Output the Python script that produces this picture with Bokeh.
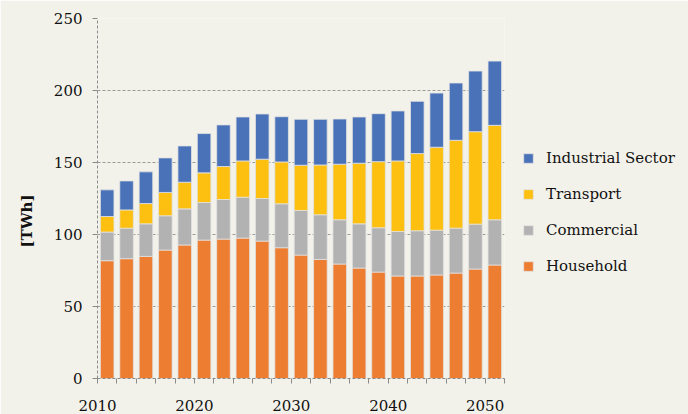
from bokeh.plotting import figure
from bokeh.models import ColumnDataSource, Range1d, FixedTicker, Legend, LegendItem, Title
from bokeh.embed import file_html
from bokeh.resources import INLINE

years = [2011 + 2 * i for i in range(21)]
household = [81.8, 83.2, 84.8, 89.2, 92.7, 96.1, 96.8, 97.5, 95.4, 90.8, 85.7,
             82.7, 79.5, 76.7, 73.9, 71.2, 71.2, 71.9, 73.2, 76.0, 78.8]
commercial = [19.9, 21.2, 22.6, 23.8, 25.1, 26.1, 27.5, 28.4, 29.6, 30.5, 31.0,
              31.0, 30.7, 30.7, 30.8, 30.9, 31.4, 31.1, 31.2, 31.2, 31.4]
transport = [10.8, 12.7, 14.1, 16.2, 18.5, 20.6, 22.9, 25.2, 27.3, 29.1, 31.4,
             34.6, 38.6, 42.1, 45.9, 49.0, 53.6, 57.6, 61.0, 64.2, 65.6]
industrial = [18.5, 20.1, 22.0, 24.0, 25.2, 27.3, 28.9, 30.5, 31.4, 31.4, 31.9,
              31.7, 31.4, 32.1, 33.3, 34.7, 36.3, 37.6, 39.8, 42.1, 44.6]

series = ["Household", "Commercial", "Transport", "Industrial Sector"]
colors = ["#ed7d31", "#b2b2b2", "#fdc010", "#4a72b8"]
x_ticks = list(range(2010, 2053, 2))
x_labels = {2010: "2010", 2020: "2020", 2030: "2030", 2040: "2040", 2050: "2050"}
y_ticks = [0, 50, 100, 150, 200, 250]

BG = "#f3f2ea"
FONT = "DejaVu Serif"

source = ColumnDataSource(dict(year=years, Household=household, Commercial=commercial,
                               Transport=transport, **{"Industrial Sector": industrial}))

p = figure(frame_width=407, frame_height=360, output_backend="svg", toolbar_location=None,
           x_range=Range1d(2010, 2052), y_range=Range1d(0, 250),
           min_border_left=96, min_border_right=185, min_border_top=18, min_border_bottom=36,
           background_fill_color=BG, border_fill_color=BG)
p.outline_line_color = None

renderers = p.vbar_stack(series, x="year", width=1.4, source=source, color=colors,
                         line_color="#e2e2e2", line_width=0.8)

p.xgrid.grid_line_color = None
p.ygrid.ticker = FixedTicker(ticks=y_ticks)
p.ygrid.grid_line_color = "#9a9a9a"
p.ygrid.grid_line_dash = "3 2"
p.ygrid.grid_line_width = 1

xa = p.xaxis[0]
xa.ticker = FixedTicker(ticks=x_ticks)
xa.major_label_overrides = {t: x_labels.get(t, "") for t in x_ticks}
xa.axis_line_color = "#8a8a8a"
xa.axis_line_dash = "3 2"
xa.major_tick_line_color = "#8a8a8a"
xa.major_tick_in = 0
xa.major_tick_out = 5
xa.minor_tick_line_color = None
xa.major_label_text_font = FONT
xa.major_label_text_font_size = "15px"
xa.major_label_text_color = "#111111"
xa.major_label_standoff = 16

ya = p.yaxis[0]
ya.ticker = FixedTicker(ticks=y_ticks)
ya.axis_line_color = "#8a8a8a"
ya.axis_line_dash = "3 2"
ya.major_tick_line_color = "#8a8a8a"
ya.major_tick_in = 0
ya.major_tick_out = 5
ya.minor_tick_line_color = None
ya.major_label_text_font = FONT
ya.major_label_text_font_size = "15px"
ya.major_label_text_color = "#111111"
ya.major_label_standoff = 10

ytitle = Title(text="[TWh]", align="left", offset=121, padding=10,
               text_font=FONT, text_font_size="15px", text_font_style="bold",
               text_color="#111111")
p.add_layout(ytitle, "left")

items = [LegendItem(label=series[i], renderers=[renderers[i]]) for i in range(3, -1, -1)]
legend = Legend(items=items, location=(18, 102), orientation="vertical",
                glyph_width=12, glyph_height=12, label_height=20, spacing=16,
                label_standoff=12, padding=0, margin=0,
                label_text_font=FONT, label_text_font_size="15px",
                label_text_color="#111111",
                border_line_color=None, background_fill_alpha=0)
p.add_layout(legend, "right")

html = file_html(p, INLINE)
html = html.replace("<body>", '<body style="background:%s">' % BG, 1)
open("out.html", "w").write(html)
